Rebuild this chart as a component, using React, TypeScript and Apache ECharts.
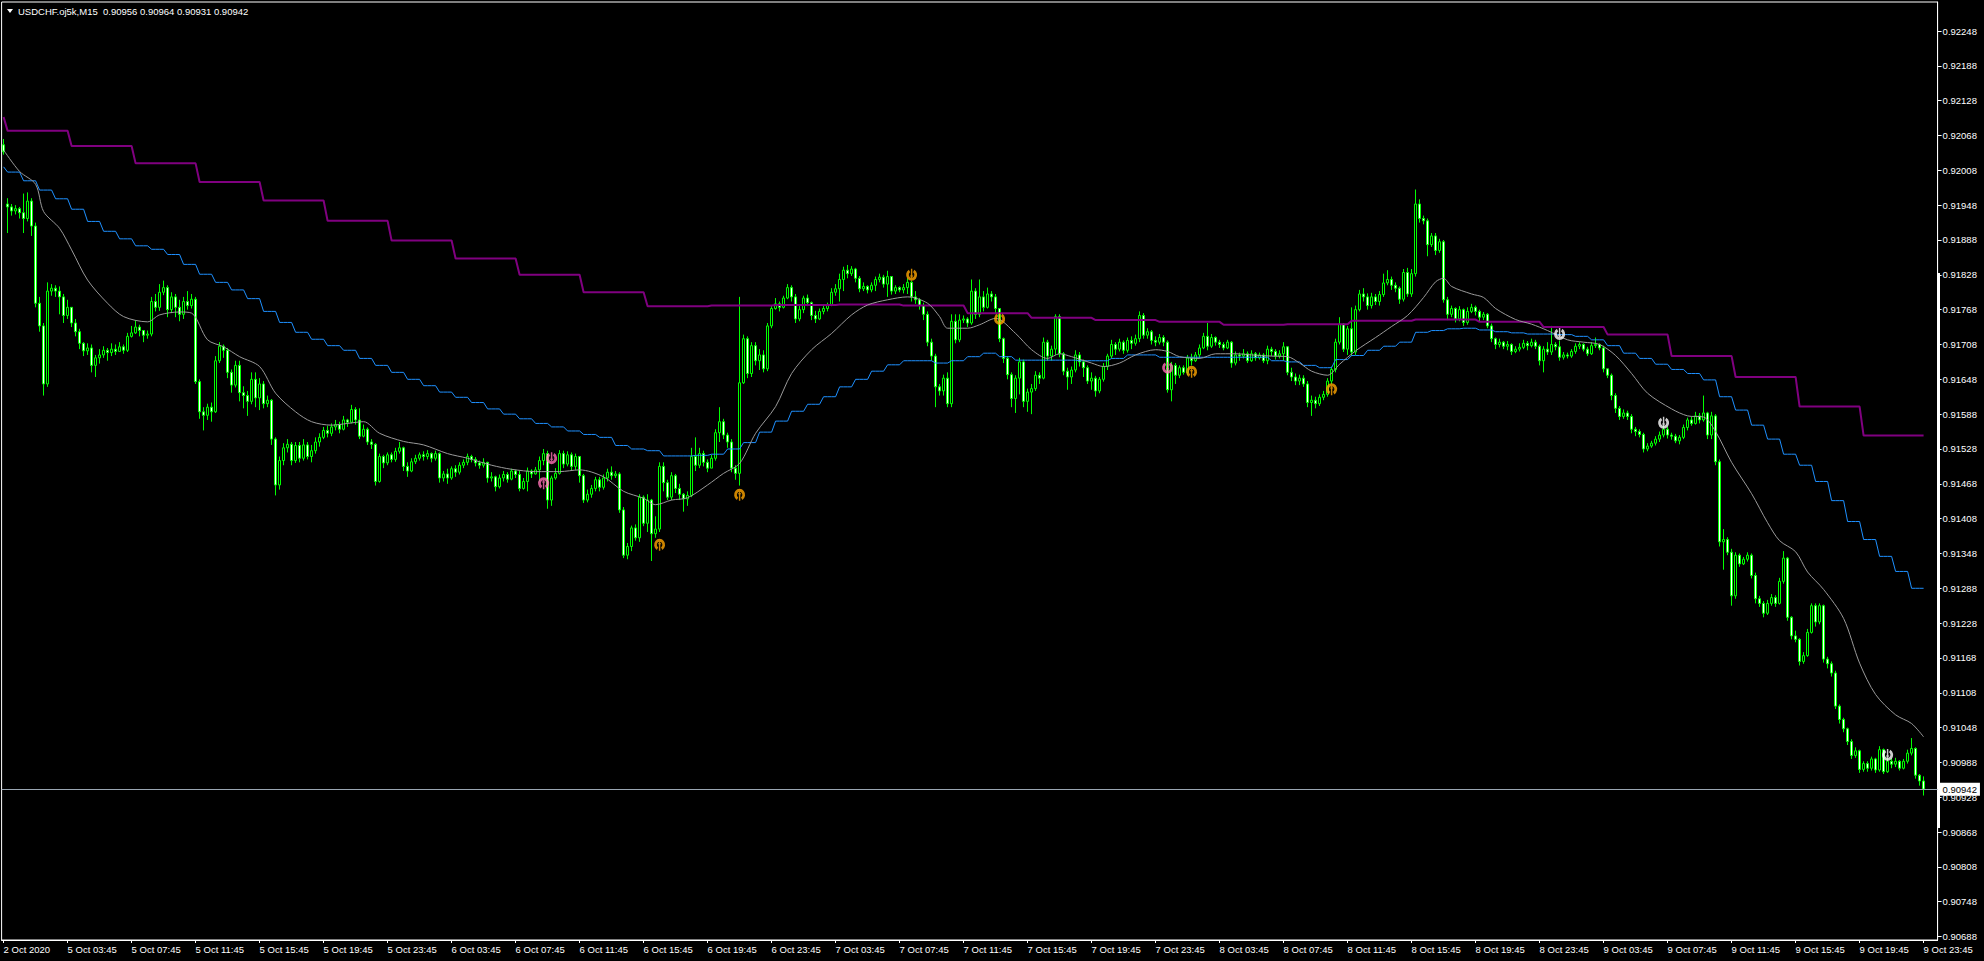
import React, { useEffect, useRef } from 'react';
import * as echarts from 'echarts';

// prices are stored as points above 0.90000 (1 point = 0.00001)
const BASE = 0.9;
const SCALE = 100000;

const titleText = 'USDCHF.oj5k,M15  0.90956 0.90964 0.90931 0.90942';
const lastPrice = 0.90942;
const lastPriceLabel = '0.90942';

const firstOpen = 2052;
const openGaps: Record<number, number> = { 1: 1950 };

// bar 0, then 30 blocks of 16 M15 bars (4 hours each)
const closes = [
  2040,
  1945,1938,1942,1935,1925,1955,1912,1779,1740,1640,1800,1805,1800,1790,1758,1772,
  1745,1730,1710,1697,1702,1672,1685,1690,1698,1694,1700,1696,1704,1698,1722,1728,
  1738,1732,1724,1726,1782,1772,1798,1806,1768,1790,1772,1760,1782,1775,1786,1644,
  1592,1586,1600,1592,1680,1705,1698,1660,1638,1672,1625,1620,1610,1648,1616,1640,
  1606,1612,1545,1466,1508,1530,1536,1508,1534,1512,1535,1515,1525,1540,1548,1560,
  1555,1566,1570,1562,1578,1574,1596,1578,1550,1562,1540,1536,1472,1515,1504,1518,
  1510,1524,1530,1498,1490,1506,1512,1518,1515,1520,1512,1520,1478,1485,1478,1494,
  1488,1500,1505,1515,1510,1504,1500,1505,1478,1480,1463,1478,1484,1476,1490,1484,
  1460,1472,1490,1485,1492,1508,1520,1440,1478,1486,1520,1502,1518,1498,1515,1482,
  1440,1450,1460,1475,1462,1478,1488,1482,1485,1423,1345,1360,1392,1375,1445,1400,
  1440,1382,1390,1498,1470,1445,1482,1460,1450,1442,1448,1515,1500,1520,1505,1495,
  1512,1556,1575,1552,1540,1495,1486,1642,1718,1658,1706,1680,1690,1666,1740,1770,
  1778,1772,1788,1806,1790,1752,1768,1788,1780,1758,1752,1765,1770,1776,1798,1804,
  1820,1836,1830,1838,1822,1804,1808,1802,1810,1820,1824,1812,1825,1800,1806,1802,
  1806,1815,1790,1785,1775,1760,1712,1688,1635,1628,1650,1606,1748,1716,1750,1752,
  1745,1800,1760,1790,1772,1795,1790,1770,1718,1684,1656,1615,1650,1678,1610,1626,
  1632,1655,1650,1712,1688,1700,1756,1692,1662,1652,1664,1690,1678,1668,1645,1650,
  1628,1648,1670,1688,1708,1700,1712,1698,1715,1710,1718,1758,1724,1730,1715,1712,
  1720,1712,1630,1672,1655,1668,1660,1685,1680,1690,1702,1722,1705,1720,1712,1708,
  1702,1712,1676,1690,1688,1692,1680,1692,1685,1690,1680,1700,1696,1688,1692,1704,
  1660,1652,1645,1650,1640,1608,1612,1606,1617,1622,1645,1665,1712,1743,1700,1735,
  1695,1768,1795,1790,1775,1790,1782,1794,1814,1820,1810,1805,1786,1832,1795,1830,
  1950,1925,1921,1880,1895,1870,1885,1785,1760,1770,1752,1768,1746,1765,1772,1765,
  1755,1760,1740,1718,1708,1712,1705,1708,1696,1700,1703,1710,1706,1712,1705,1680,
  1700,1695,1708,1704,1686,1690,1688,1696,1705,1708,1700,1692,1706,1708,1702,1666,
  1655,1620,1598,1584,1590,1584,1562,1558,1553,1528,1533,1538,1545,1552,1562,1552,
  1550,1542,1548,1565,1578,1572,1585,1578,1590,1552,1585,1506,1368,1372,1350,1275,
  1345,1330,1338,1345,1310,1270,1262,1245,1262,1272,1262,1300,1340,1238,1206,1200,
  1162,1172,1212,1258,1230,1258,1166,1158,1142,1085,1062,1046,1024,1000,1008,976,
  986,978,994,975,1010,972,990,985,990,978,990,1004,1012,966,956,942,
];

const highs = [
  2062,
  1960,1950,1948,1945,1968,1970,1960,1918,1790,1745,1815,1812,1810,1808,1795,1785,
  1772,1752,1735,1712,1710,1708,1690,1700,1705,1702,1710,1708,1712,1708,1728,1740,
  1750,1742,1733,1732,1790,1795,1812,1818,1810,1798,1795,1785,1790,1800,1795,1790,
  1648,1600,1606,1608,1688,1712,1708,1702,1665,1680,1680,1636,1628,1660,1660,1650,
  1645,1620,1614,1548,1515,1538,1545,1540,1540,1540,1545,1540,1535,1548,1555,1566,
  1568,1572,1578,1575,1585,1580,1604,1600,1598,1570,1565,1545,1538,1520,1518,1522,
  1522,1530,1540,1532,1505,1512,1518,1522,1524,1526,1522,1525,1522,1490,1494,1498,
  1500,1505,1510,1520,1518,1514,1508,1512,1506,1488,1482,1484,1490,1488,1494,1492,
  1490,1478,1496,1493,1497,1515,1528,1525,1482,1495,1526,1525,1524,1522,1520,1516,
  1485,1458,1466,1480,1480,1484,1494,1498,1490,1488,1428,1366,1396,1398,1450,1448,
  1450,1442,1412,1505,1505,1475,1488,1485,1468,1452,1455,1530,1548,1530,1525,1510,
  1518,1562,1600,1580,1556,1545,1500,1790,1725,1722,1712,1712,1700,1698,1745,1776,
  1788,1782,1792,1812,1810,1795,1775,1792,1794,1782,1766,1770,1776,1780,1805,1812,
  1830,1842,1845,1843,1840,1826,1815,1810,1815,1825,1830,1828,1835,1822,1810,1808,
  1812,1822,1818,1800,1788,1780,1765,1718,1692,1640,1656,1660,1760,1760,1760,1758,
  1755,1820,1805,1820,1800,1806,1800,1795,1748,1720,1688,1660,1655,1685,1682,1632,
  1640,1662,1660,1720,1716,1706,1760,1760,1695,1668,1670,1698,1695,1682,1672,1660,
  1654,1652,1676,1692,1716,1712,1718,1715,1720,1722,1725,1765,1762,1736,1733,1722,
  1726,1724,1715,1678,1676,1672,1672,1690,1692,1695,1708,1728,1745,1726,1722,1716,
  1712,1716,1714,1696,1694,1700,1696,1698,1695,1694,1693,1706,1704,1700,1698,1712,
  1705,1668,1658,1656,1655,1645,1620,1618,1622,1628,1650,1670,1718,1755,1745,1740,
  1772,1775,1802,1805,1796,1797,1795,1800,1830,1836,1825,1815,1808,1838,1840,1838,
  1975,1958,1930,1925,1900,1900,1890,1888,1790,1775,1772,1774,1770,1772,1778,1775,
  1768,1764,1762,1744,1720,1718,1714,1714,1710,1705,1710,1716,1714,1718,1716,1708,
  1705,1712,1740,1712,1715,1695,1694,1700,1710,1712,1710,1704,1712,1720,1710,1706,
  1662,1658,1624,1602,1596,1594,1588,1566,1562,1556,1538,1542,1550,1558,1568,1566,
  1556,1554,1552,1570,1582,1584,1592,1590,1620,1592,1592,1588,1510,1390,1376,1356,
  1350,1348,1342,1350,1348,1315,1275,1266,1268,1278,1276,1306,1352,1342,1240,1215,
  1202,1178,1218,1262,1262,1262,1260,1170,1162,1146,1088,1065,1048,1028,1014,1010,
  990,990,998,996,1016,1012,996,995,996,992,994,1010,1030,1014,968,964,
];

const lows = [
  2035,
  1900,1930,1932,1925,1900,1920,1895,1772,1730,1620,1635,1792,1790,1760,1745,1752,
  1738,1722,1700,1688,1690,1660,1652,1675,1685,1680,1688,1690,1695,1692,1695,1720,
  1726,1722,1712,1718,1722,1765,1766,1793,1755,1762,1755,1748,1752,1768,1770,1640,
  1580,1560,1578,1575,1590,1676,1685,1650,1625,1634,1610,1598,1585,1605,1600,1595,
  1598,1600,1535,1448,1458,1500,1522,1500,1504,1505,1508,1510,1505,1520,1532,1545,
  1548,1550,1560,1555,1560,1566,1572,1570,1545,1548,1535,1528,1465,1470,1495,1500,
  1505,1506,1520,1490,1480,1488,1502,1508,1508,1510,1505,1508,1470,1472,1468,1475,
  1480,1484,1495,1500,1505,1498,1494,1496,1470,1472,1455,1460,1472,1470,1474,1478,
  1455,1458,1455,1478,1484,1472,1500,1425,1430,1475,1484,1495,1498,1490,1492,1470,
  1435,1436,1444,1455,1455,1458,1472,1475,1478,1418,1340,1338,1352,1370,1368,1395,
  1385,1335,1375,1385,1455,1440,1440,1452,1440,1420,1430,1445,1490,1495,1498,1488,
  1495,1508,1540,1545,1530,1488,1475,1465,1640,1650,1652,1672,1664,1660,1662,1736,
  1768,1765,1770,1786,1782,1745,1748,1762,1774,1750,1745,1750,1760,1765,1774,1792,
  1782,1800,1822,1826,1815,1798,1800,1796,1798,1800,1815,1806,1790,1794,1795,1798,
  1796,1795,1782,1778,1768,1750,1705,1680,1600,1620,1620,1600,1600,1710,1712,1745,
  1738,1742,1752,1755,1765,1770,1782,1760,1712,1676,1648,1600,1590,1622,1600,1592,
  1588,1628,1640,1648,1680,1680,1690,1686,1655,1630,1640,1660,1670,1652,1640,1630,
  1618,1624,1644,1664,1684,1690,1696,1692,1694,1700,1706,1712,1718,1718,1708,1705,
  1708,1705,1625,1610,1640,1650,1656,1655,1672,1678,1684,1700,1698,1702,1706,1702,
  1698,1700,1668,1672,1680,1684,1676,1678,1680,1682,1676,1674,1688,1682,1684,1680,
  1655,1645,1638,1638,1635,1600,1585,1598,1602,1612,1618,1640,1660,1708,1695,1690,
  1688,1690,1765,1782,1768,1770,1776,1775,1790,1810,1802,1798,1778,1782,1790,1790,
  1825,1918,1915,1860,1876,1862,1866,1780,1750,1755,1746,1748,1740,1742,1762,1758,
  1748,1750,1736,1712,1700,1703,1700,1698,1690,1693,1696,1700,1698,1703,1700,1672,
  1660,1690,1690,1698,1680,1682,1684,1685,1692,1700,1696,1688,1690,1702,1698,1660,
  1650,1612,1590,1578,1580,1578,1555,1550,1548,1522,1524,1530,1534,1540,1548,1546,
  1544,1538,1536,1545,1560,1568,1570,1572,1575,1545,1545,1500,1360,1320,1345,1258,
  1270,1325,1328,1334,1305,1262,1256,1238,1242,1258,1256,1260,1296,1232,1200,1195,
  1155,1158,1170,1210,1222,1226,1160,1150,1136,1080,1055,1040,1018,994,996,970,
  972,972,974,970,972,968,970,978,980,974,976,986,1000,960,948,931,
];

// purple step line: value of bar 0, then one value per 4-hour block
const purpleStart = 2100;
const purpleBlocks = [
  2076,2050,2020,1988,1956,1921,1887,1856,1828,1798,
  1774,1775,1776,1777,1775,1762,1754,1750,1747,1742,
  1743,1749,1751,1747,1738,1725,1688,1652,1601,1551,
];

// blue step line: value of bar 0, then one value per hour
const blueStart = 2014;
const blueHours = [
  2005,1990,1974,1959,1941,1920,1903,1890,1878,1872,1863,1846,1829,1815,1802,1787,
  1765,1746,1729,1717,1706,1698,1684,1672,1660,1648,1637,1626,1617,1608,1597,1588,
  1580,1572,1566,1559,1553,1548,1534,1528,1525,1516,1516,1517,1519,1528,1539,1557,
  1576,1593,1605,1618,1635,1648,1662,1673,1680,1680,1676,1680,1687,1693,1687,1681,
  1681,1681,1681,1680,1680,1684,1690,1690,1686,1686,1686,1686,1686,1686,1686,1680,
  1678,1672,1668,1682,1689,1698,1705,1712,1729,1732,1735,1736,1733,1730,1728,1726,
  1726,1725,1722,1716,1706,1693,1684,1674,1665,1658,1647,1618,1595,1569,1545,1519,
  1500,1472,1439,1403,1372,1343,1317,1288,
];

// gray moving average, read at these bars
const maBars = [
  0,4,8,10,14,17,21,26,30,36,39,44,47,51,55,59,64,68,73,77,82,86,90,94,100,105,111,116,122,127,
  133,139,144,150,155,160,163,167,171,176,180,184,188,193,197,202,207,212,216,221,226,231,234,236,
  241,244,248,253,257,261,264,267,272,275,279,283,288,291,294,299,303,308,312,317,321,324,327,331,
  334,338,343,347,351,355,358,360,362,367,370,373,378,382,386,391,395,399,403,407,411,417,421,425,
  428,432,437,441,444,448,451,455,460,464,468,473,477,480,
];
const maValues = [
  2043,2006,1984,1937,1908,1871,1819,1779,1756,1747,1759,1764,1762,1716,1704,1687,1670,1624,1592,1575,1569,1572,1575,1555,1541,1535,1520,1512,1500,1493,
  1489,1489,1492,1480,1455,1443,1432,1440,1444,1466,1486,1503,1555,1601,1658,1699,1727,1759,1776,1785,1790,1779,1756,1736,
  1736,1742,1753,1727,1699,1684,1692,1687,1676,1670,1676,1690,1699,1696,1687,1684,1692,1692,1690,1688,1687,1676,1662,1655,
  1674,1697,1720,1739,1758,1789,1816,1822,1808,1795,1789,1770,1751,1743,1732,1716,1712,1708,1689,1658,1624,1597,1585,1583,
  1558,1505,1451,1401,1370,1351,1316,1286,1236,1159,1105,1070,1055,1032,
];

// arrow markers
const markerBars = [135, 137, 164, 184, 227, 249, 291, 297, 332, 389, 415, 471];
const markerValues = [1469, 1512, 1363, 1449, 1828, 1752, 1668, 1661, 1631, 1726, 1573, 1001];
const markerDirs = ['up', 'down', 'up', 'up', 'down', 'down', 'down', 'up', 'up', 'down', 'down', 'down'];
const markerColors = ['#ff6eb4', '#ff6eb4', '#ffa500', '#ffa500', '#ffa500', '#ffa500', '#ff6eb4', '#ffa500', '#ffa500', '#ffffff', '#ffffff', '#ffffff'];

const yTicks = [
  0.90688,0.90748,0.90808,0.90868,0.90928,0.90988,0.91048,0.91108,0.91168,0.91228,0.91288,0.91348,0.91408,0.91468,
  0.91528,0.91588,0.91648,0.91708,0.91768,0.91828,0.91888,0.91948,0.92008,0.92068,0.92128,0.92188,0.92248,
];

const xTickLabels = [
  '2 Oct 2020',
  '5 Oct 03:45','5 Oct 07:45','5 Oct 11:45','5 Oct 15:45','5 Oct 19:45','5 Oct 23:45',
  '6 Oct 03:45','6 Oct 07:45','6 Oct 11:45','6 Oct 15:45','6 Oct 19:45','6 Oct 23:45',
  '7 Oct 03:45','7 Oct 07:45','7 Oct 11:45','7 Oct 15:45','7 Oct 19:45','7 Oct 23:45',
  '8 Oct 03:45','8 Oct 07:45','8 Oct 11:45','8 Oct 15:45','8 Oct 19:45','8 Oct 23:45',
  '9 Oct 03:45','9 Oct 07:45','9 Oct 11:45','9 Oct 15:45','9 Oct 19:45','9 Oct 23:45',
];

const FONT = '"Liberation Sans", Arial, sans-serif';
const MARK_PATH =
  'path://M5,18.66 A10,10 0 1,1 15,18.66 L12.5,14.33 A5,5 0 1,0 7.5,14.33 Z M10,4.5 L13.2,9 L11.3,9 L11.3,20 L8.7,20 L8.7,9 L6.8,9 Z';

const toP = (v: number) => +(BASE + v / SCALE).toFixed(5);

function buildOption() {
  const nCats = 484;
  const cats = Array.from({ length: nCats }, (_, i) => String(i));
  const candles = closes.map((c, i) => {
    const o = i === 0 ? firstOpen : openGaps[i] !== undefined ? openGaps[i] : closes[i - 1];
    const h = Math.max(highs[i], o, c);
    const l = Math.min(lows[i], o, c);
    return [toP(o), toP(c), toP(l), toP(h)];
  });
  const purple = closes.map((_, i) => toP(i === 0 ? purpleStart : purpleBlocks[Math.floor((i - 1) / 16)]));
  const blue = closes.map((_, i) => toP(i === 0 ? blueStart : blueHours[Math.floor((i - 1) / 4)]));
  const ma = maBars.map((b, i) => [b, toP(maValues[i])]);
  const markers = markerBars.map((b, i) => ({
    value: [b, toP(markerValues[i])],
    symbolRotate: markerDirs[i] === 'down' ? 180 : 0,
    itemStyle: { color: markerColors[i] },
  }));
  const showTick = (index: number) => index % 16 === 0 && index <= 480;

  return {
    animation: false,
    backgroundColor: '#000000',
    grid: {
      left: 1.6,
      top: 2,
      width: 1936,
      height: 938,
      show: true,
      borderColor: '#ffffff',
      borderWidth: 1,
      backgroundColor: '#000000',
    },
    xAxis: {
      type: 'category',
      data: cats,
      boundaryGap: true,
      axisLine: { show: true, lineStyle: { color: '#ffffff', width: 1 } },
      axisTick: { show: true, alignWithLabel: true, interval: showTick, length: 3, lineStyle: { color: '#ffffff' } },
      axisLabel: {
        show: true,
        interval: showTick,
        formatter: (_v: string, idx: number) => xTickLabels[idx / 16] || '',
        color: '#ffffff',
        fontFamily: FONT,
        fontSize: 9.5,
        align: 'left',
        margin: 4,
      },
      splitLine: { show: false },
    },
    yAxis: {
      type: 'value',
      position: 'right',
      min: 0.906821,
      max: 0.92298,
      axisLine: { show: true, lineStyle: { color: '#ffffff', width: 1 } },
      axisTick: { show: true, customValues: yTicks, length: 4, lineStyle: { color: '#ffffff' } },
      axisLabel: {
        show: true,
        customValues: yTicks,
        formatter: (v: number) => v.toFixed(5),
        color: '#ffffff',
        fontFamily: FONT,
        fontSize: 9.5,
        margin: 5,
      },
      splitLine: { show: false },
    },
    series: [
      {
        type: 'candlestick',
        data: candles,
        barWidth: 2,
        itemStyle: {
          color: '#000000',
          color0: '#ffffff',
          borderColor: '#00ff00',
          borderColor0: '#00ff00',
          borderColorDoji: '#00ff00',
          borderWidth: 1,
        },
        silent: true,
      },
      {
        type: 'line',
        data: purple,
        showSymbol: false,
        symbol: 'none',
        silent: true,
        lineStyle: { color: '#800080', width: 2 },
      },
      {
        type: 'line',
        data: blue,
        showSymbol: false,
        symbol: 'none',
        silent: true,
        lineStyle: { color: '#1e90ff', width: 1 },
        markLine: {
          silent: true,
          symbol: 'none',
          precision: 5,
          data: [{ yAxis: lastPrice }],
          lineStyle: { color: '#9aa6b2', type: 'solid', width: 1 },
          label: {
            show: true,
            position: 'end',
            distance: 2,
            formatter: lastPriceLabel,
            backgroundColor: '#ffffff',
            color: '#000000',
            padding: [2, 3, 1, 3],
            fontFamily: FONT,
            fontSize: 9.5,
          },
        },
      },
      {
        type: 'line',
        data: ma,
        showSymbol: false,
        symbol: 'none',
        smooth: 0.3,
        silent: true,
        lineStyle: { color: '#9a9a9a', width: 1 },
      },
      {
        type: 'scatter',
        data: markers,
        symbol: MARK_PATH,
        symbolSize: [11, 12],
        silent: true,
        z: 5,
      },
    ],
    graphic: [
      {
        type: 'polygon',
        shape: { points: [[7, 9], [13, 9], [10, 13]] },
        style: { fill: '#ffffff' },
      },
      {
        type: 'text',
        x: 18,
        y: 11,
        style: {
          text: titleText,
          fill: '#ffffff',
          fontFamily: FONT,
          fontSize: 9.5,
          verticalAlign: 'middle',
        },
      },
      {
        type: 'rect',
        shape: { x: 1937, y: 273, width: 3, height: 555 },
        style: { fill: '#ffffff' },
      },
    ],
  };
}

export default function App() {
  const ref = useRef<HTMLDivElement>(null);
  useEffect(() => {
    if (!ref.current) return;
    const chart = echarts.init(ref.current, null, { renderer: 'svg' });
    chart.setOption(buildOption() as any);
    return () => chart.dispose();
  }, []);
  return (
    <div
      ref={ref}
      style={{ position: 'fixed', left: 0, top: 0, width: 1984, height: 961, background: '#000000' }}
    />
  );
}
